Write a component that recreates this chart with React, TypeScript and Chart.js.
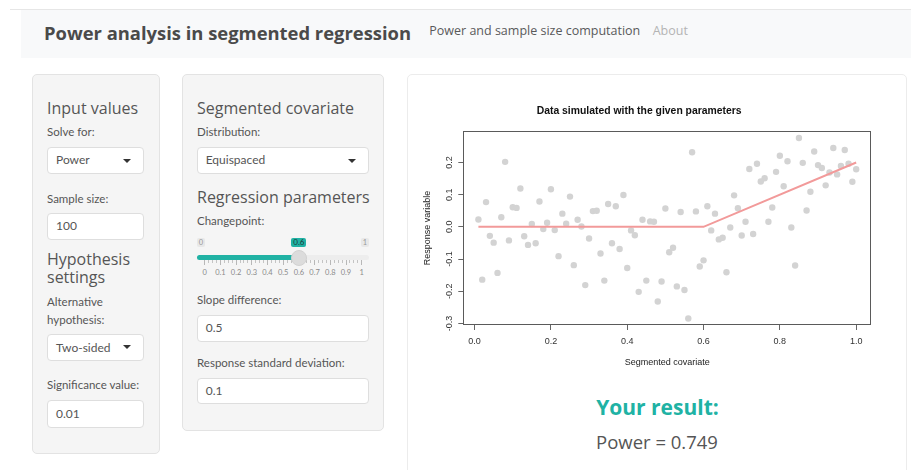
import React, { useEffect, useRef } from 'react';
import { Chart, registerables } from 'chart.js';

Chart.register(...registerables);

// ---------------- data ----------------
const COVARIATE = [
  0.01, 0.02, 0.03, 0.04, 0.05, 0.06, 0.07, 0.08, 0.09, 0.1,
  0.11, 0.12, 0.13, 0.14, 0.15, 0.16, 0.17, 0.18, 0.19, 0.2,
  0.21, 0.22, 0.23, 0.24, 0.25, 0.26, 0.27, 0.28, 0.29, 0.3,
  0.31, 0.32, 0.33, 0.34, 0.35, 0.36, 0.37, 0.38, 0.39, 0.4,
  0.41, 0.42, 0.43, 0.44, 0.45, 0.46, 0.47, 0.48, 0.49, 0.5,
  0.51, 0.52, 0.53, 0.54, 0.55, 0.56, 0.57, 0.58, 0.59, 0.6,
  0.61, 0.62, 0.63, 0.64, 0.65, 0.66, 0.67, 0.68, 0.69, 0.7,
  0.71, 0.72, 0.73, 0.74, 0.75, 0.76, 0.77, 0.78, 0.79, 0.8,
  0.81, 0.82, 0.83, 0.84, 0.85, 0.86, 0.87, 0.88, 0.89, 0.9,
  0.91, 0.92, 0.93, 0.94, 0.95, 0.96, 0.97, 0.98, 0.99, 1.0,
];

const RESPONSE = [
  0.023, -0.164, 0.077, -0.028, -0.049, -0.143, 0.030, 0.202, -0.042, 0.061,
  0.059, 0.119, -0.029, -0.056, 0.009, -0.051, 0.079, -0.007, 0.013, 0.117,
  -0.010, -0.091, 0.041, 0.010, 0.094, -0.119, 0.022, 0.001, -0.181, -0.036,
  0.049, 0.050, -0.083, -0.167, 0.071, -0.051, 0.064, -0.069, 0.099, -0.128,
  -0.011, -0.026, -0.202, 0.022, -0.167, 0.017, 0.016, -0.232, -0.170, 0.057,
  -0.079, -0.065, -0.185, 0.046, -0.196, -0.285, 0.232, 0.048, -0.123, -0.104,
  0.064, -0.011, 0.041, -0.039, -0.034, -0.141, -0.002, 0.098, 0.058, -0.027,
  0.016, 0.180, -0.022, 0.196, 0.141, 0.151, 0.016, 0.060, 0.171, 0.221,
  0.126, 0.204, -0.002, -0.120, 0.276, 0.199, 0.051, 0.109, 0.234, 0.192,
  0.183, 0.129, 0.169, 0.245, 0.163, 0.189, 0.239, 0.196, 0.140, 0.179,
];

const FIT_X = [0.01, 0.6, 1.0];
const FIT_Y = [0, 0, 0.2];

const X_TICKS = [0, 0.2, 0.4, 0.6, 0.8, 1.0];
const Y_TICKS = [-0.3, -0.2, -0.1, 0, 0.1, 0.2];
const X_RANGE = [-0.0296, 1.0396];
const Y_RANGE = [-0.305, 0.298];

const SLIDER_LABELS = ['0', '0.1', '0.2', '0.3', '0.4', '0.5', '0.6', '0.7', '0.8', '0.9', '1'];
const SLIDER_VALUE = 0.6;

const CHART_TITLE = 'Data simulated with the given parameters';
const X_TITLE = 'Segmented covariate';
const Y_TITLE = 'Response variable';

// ---------------- styling helpers ----------------
const HEAD = '"Open Sans", sans-serif';
const BODY = 'Lato, sans-serif';
const RFONT = '"Liberation Sans", Arial, sans-serif';
const TEAL = '#20b2a4';
const GREY = '#555';
const LBL = 11.5;
const H3 = 16;

type TP = {
  x: number; y: number; size: number; children: React.ReactNode;
  color?: string; family?: string; weight?: number; center?: boolean;
  width?: number; lh?: number;
};

function Txt({ x, y, size, children, color = GREY, family = BODY, weight = 400, center = false, width, lh }: TP) {
  const L = lh ?? size * 1.3;
  const style: React.CSSProperties = {
    position: 'absolute',
    left: center ? x - 300 : x,
    width: center ? 600 : width,
    textAlign: center ? 'center' : 'left',
    top: y - L / 2 - 0.03 * size,
    fontSize: size,
    lineHeight: L + 'px',
    fontFamily: family,
    fontWeight: weight,
    color,
    whiteSpace: width ? 'normal' : 'nowrap',
  };
  return <div style={style}>{children}</div>;
}

function Box({ x, y, w, h, text, caret }: { x: number; y: number; w: number; h: number; text: string; caret?: boolean }) {
  return (
    <div style={{ position: 'absolute', left: x, top: y, width: w, height: h, boxSizing: 'border-box', background: '#fff', border: '1px solid #dedede', borderRadius: 4 }}>
      <div style={{ position: 'absolute', left: 8, top: 0, height: h - 2, lineHeight: (h - 2) + 'px', fontFamily: BODY, fontSize: 12, color: GREY }}>{text}</div>
      {caret ? (
        <div style={{ position: 'absolute', right: 12, top: (h - 2) / 2 - 2, width: 0, height: 0, borderLeft: '4px solid transparent', borderRight: '4px solid transparent', borderTop: '4px solid #333' }} />
      ) : null}
    </div>
  );
}

function Panel({ x, y, w, h, bg, border }: { x: number; y: number; w: number; h: number; bg: string; border: string }) {
  return <div style={{ position: 'absolute', left: x, top: y, width: w, height: h, boxSizing: 'border-box', background: bg, border: '1px solid ' + border, borderRadius: 5 }} />;
}

function Slider() {
  const x0 = 204.7, x1 = 361.7;
  const pos = (v: number) => x0 + (x1 - x0) * v;
  const hx = pos(SLIDER_VALUE);
  const items: React.ReactNode[] = [];
  for (let i = 0; i < SLIDER_LABELS.length; i++) {
    const v = i / (SLIDER_LABELS.length - 1);
    items.push(<div key={'M' + i} style={{ position: 'absolute', left: pos(v) - 0.5, top: 260, width: 1, height: 5, background: '#b8b8b8' }} />);
    items.push(<div key={'L' + i} style={{ position: 'absolute', left: pos(v) - 15, width: 30, top: 268, textAlign: 'center', fontFamily: BODY, fontSize: 7.5, lineHeight: '10px', color: '#8a8a8a' }}>{SLIDER_LABELS[i]}</div>);
    if (i < SLIDER_LABELS.length - 1) {
      for (let k = 1; k < 4; k++) {
        const vv = v + k * 0.025;
        items.push(<div key={'m' + i + '_' + k} style={{ position: 'absolute', left: pos(vv) - 0.5, top: 260, width: 1, height: 3, background: '#c4c4c4' }} />);
      }
    }
  }
  return (
    <>
      <div style={{ position: 'absolute', left: 196.7, top: 237.7, width: 8.5, height: 9, background: '#e8e8e8', borderRadius: 2, fontFamily: BODY, fontSize: 7.5, lineHeight: '9px', textAlign: 'center', color: '#999' }}>0</div>
      <div style={{ position: 'absolute', left: 360.7, top: 237.7, width: 8.5, height: 9, background: '#e8e8e8', borderRadius: 2, fontFamily: BODY, fontSize: 7.5, lineHeight: '9px', textAlign: 'center', color: '#999' }}>1</div>
      <div style={{ position: 'absolute', left: hx - 7.5, top: 237.7, width: 15, height: 9.5, background: TEAL, borderRadius: 2, fontFamily: BODY, fontSize: 8, lineHeight: '9.5px', textAlign: 'center', color: '#1d3b38' }}>0.6</div>
      <div style={{ position: 'absolute', left: 196.7, top: 255, width: 369 - 196.7, height: 5, background: '#ededed', borderRadius: 3 }} />
      <div style={{ position: 'absolute', left: 196.7, top: 255, width: hx - 196.7, height: 5, background: TEAL, borderRadius: '3px 0 0 3px' }} />
      {items}
      <div style={{ position: 'absolute', left: hx - 8, top: 249.5, width: 16, height: 16, boxSizing: 'border-box', borderRadius: 8, background: '#dcdcdc', border: '1px solid #d2d2d2' }} />
    </>
  );
}

// ---------------- chart ----------------
const framePlugin = {
  id: 'rframe',
  afterDatasetsDraw(chart: any) {
    const { ctx, chartArea } = chart;
    ctx.save();
    ctx.strokeStyle = '#5a5a5a';
    ctx.lineWidth = 1;
    ctx.strokeRect(Math.round(chartArea.left) + 0.5, Math.round(chartArea.top) + 0.5, Math.round(chartArea.right - chartArea.left) - 1, Math.round(chartArea.bottom - chartArea.top) - 1);
    ctx.restore();
  },
};

function SimChart() {
  const ref = useRef<HTMLCanvasElement | null>(null);
  useEffect(() => {
    if (!ref.current) return;
    const points = COVARIATE.map((x, i) => ({ x, y: RESPONSE[i] }));
    const fit = FIT_X.map((x, i) => ({ x, y: FIT_Y[i] }));
    const chart = new Chart(ref.current, {
      type: 'scatter',
      data: {
        datasets: [
          {
            type: 'line',
            data: fit,
            borderColor: '#f29a9a',
            borderWidth: 2,
            pointRadius: 0,
            fill: false,
            tension: 0,
            order: 0,
          } as any,
          {
            type: 'scatter',
            data: points,
            backgroundColor: '#d3d3d3',
            borderWidth: 0,
            pointRadius: 3.2,
            order: 1,
          } as any,
        ],
      },
      options: {
        responsive: false,
        animation: false,
        layout: { padding: { left: 0, right: 35.7, top: 0, bottom: 0 } },
        plugins: {
          legend: { display: false },
          tooltip: { enabled: false },
          title: {
            display: true,
            text: CHART_TITLE,
            color: '#111',
            font: { family: RFONT, size: 10.4, weight: 'bold', lineHeight: 1.2 },
            padding: { top: 14.5, bottom: 14.0 },
          },
        },
        scales: {
          x: {
            type: 'linear',
            min: X_RANGE[0],
            max: X_RANGE[1],
            afterFit: (s: any) => { s.height = 55; },
            afterBuildTicks: (s: any) => { s.ticks = X_TICKS.map((v) => ({ value: v })); },
            grid: { display: true, drawOnChartArea: false, drawTicks: true, tickLength: 5, color: '#666' },
            border: { display: false },
            ticks: {
              color: '#333',
              padding: 6.6,
              maxRotation: 0,
              minRotation: 0,
              autoSkip: false,
              font: { family: RFONT, size: 9, lineHeight: 1.2 },
              callback: (v: any) => Number(v).toFixed(1),
            },
            title: {
              display: true,
              text: X_TITLE,
              color: '#222',
              font: { family: RFONT, size: 9, lineHeight: 1.2 },
              padding: { top: 0, bottom: 12.3 },
            },
          },
          y: {
            type: 'linear',
            min: Y_RANGE[0],
            max: Y_RANGE[1],
            afterFit: (s: any) => { s.width = 56.3; },
            afterBuildTicks: (s: any) => { s.ticks = Y_TICKS.map((v) => ({ value: v })); },
            grid: { display: true, drawOnChartArea: false, drawTicks: true, tickLength: 5, color: '#666' },
            border: { display: false },
            ticks: {
              color: '#333',
              padding: 0.6,
              minRotation: 90,
              maxRotation: 90,
              crossAlign: 'center',
              autoSkip: false,
              font: { family: RFONT, size: 9, lineHeight: 1.2 },
              callback: (v: any) => Number(v).toFixed(1),
            },
            title: {
              display: true,
              text: Y_TITLE,
              color: '#222',
              font: { family: RFONT, size: 9, lineHeight: 1.2 },
              padding: { top: 15.3, bottom: 0 },
            },
          },
        },
      } as any,
      plugins: [framePlugin],
    });
    return () => chart.destroy();
  }, []);
  return (
    <div style={{ position: 'absolute', left: 407, top: 90, width: 500, height: 290 }}>
      <canvas ref={ref} width={500} height={290} style={{ width: 500, height: 290, display: 'block' }} />
    </div>
  );
}

export default function App() {
  return (
    <div style={{ position: 'absolute', left: 0, top: 0, width: 911, height: 470, overflow: 'hidden', background: '#fff' }}>
      {/* navbar */}
      <div style={{ position: 'absolute', left: 10, top: 9, width: 901, height: 1, background: '#e6e6e6' }} />
      <div style={{ position: 'absolute', left: 21, top: 10, width: 890, height: 48, background: '#f8f9fa' }} />
      <Txt x={44} y={33.7} size={18.4} family={HEAD} weight={700} color="#4a4a4a">Power analysis in segmented regression</Txt>
      <Txt x={429.3} y={31} size={12.5} family={HEAD} color="#5a5a5a">Power and sample size computation</Txt>
      <Txt x={652.7} y={31} size={12.5} family={HEAD} color="#b4b4b4">About</Txt>

      {/* panel 1 */}
      <Panel x={32} y={74} w={128} h={380} bg="#f5f5f5" border="#e3e3e3" />
      <Txt x={47} y={108.5} size={H3} family={HEAD}>Input values</Txt>
      <Txt x={47} y={133.3} size={LBL}>Solve for:</Txt>
      <Box x={47} y={147.3} w={97} h={26.7} text="Power" caret />
      <Txt x={47} y={200} size={LBL}>Sample size:</Txt>
      <Box x={47} y={213.3} w={97} h={26.7} text="100" />
      <Txt x={47} y={260.5} size={H3} family={HEAD} width={100} lh={17.3}>Hypothesis settings</Txt>
      <Txt x={47} y={302.5} size={LBL} width={97} lh={17.6}>Alternative hypothesis:</Txt>
      <Box x={47} y={333.7} w={97} h={27.3} text="Two-sided" caret />
      <Txt x={47} y={386} size={LBL}>Significance value:</Txt>
      <Box x={47} y={400} w={97} h={27.7} text="0.01" />

      {/* panel 2 */}
      <Panel x={182} y={74} w={202} h={357} bg="#f5f5f5" border="#e3e3e3" />
      <Txt x={197} y={108.5} size={H3} family={HEAD}>Segmented covariate</Txt>
      <Txt x={197} y={133.3} size={LBL}>Distribution:</Txt>
      <Box x={196.7} y={147.3} w={172.3} h={26.7} text="Equispaced" caret />
      <Txt x={197} y={198.3} size={H3} family={HEAD}>Regression parameters</Txt>
      <Txt x={197} y={222} size={LBL}>Changepoint:</Txt>
      <Slider />
      <Txt x={197} y={301} size={LBL}>Slope difference:</Txt>
      <Box x={196.7} y={315.3} w={172.3} h={26.7} text="0.5" />
      <Txt x={197} y={363.5} size={LBL}>Response standard deviation:</Txt>
      <Box x={196.7} y={377.7} w={172.3} h={26.7} text="0.1" />

      {/* panel 3 */}
      <Panel x={406.7} y={74} w={500.6} h={420} bg="#fff" border="#ececec" />
      <SimChart />
      <Txt x={657.5} y={408.7} size={21} family={HEAD} weight={700} color={TEAL} center>Your result:</Txt>
      <Txt x={657} y={443} size={18.5} family={HEAD} color={GREY} center>Power = 0.749</Txt>
    </div>
  );
}
